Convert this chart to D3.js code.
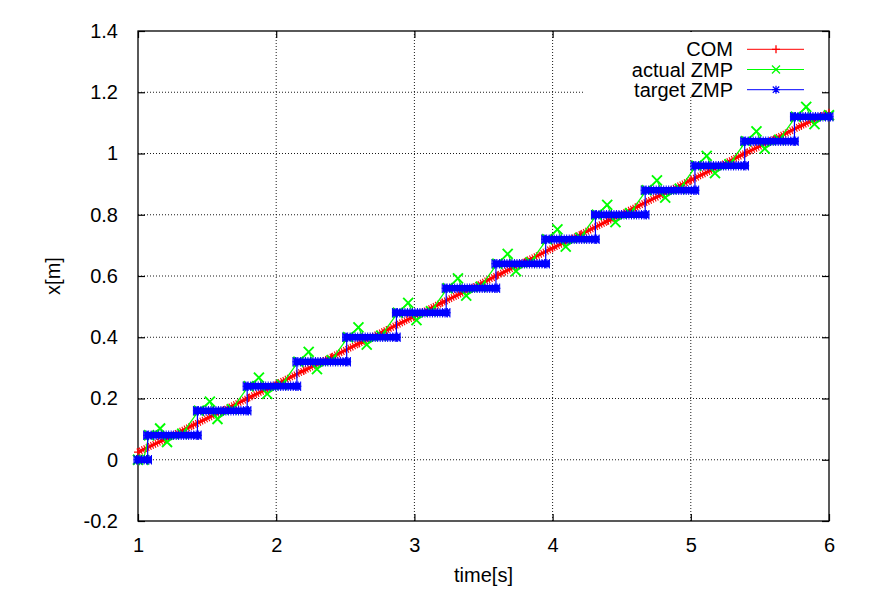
<!DOCTYPE html>
<html><head><meta charset="utf-8">
<script src="https://cdn.jsdelivr.net/npm/d3@7"></script>
<style>
body{margin:0;background:#fff}
svg{display:block}
text{font-family:"Liberation Sans",Arial,Helvetica,sans-serif;font-size:20px;fill:#000}
</style>
</head><body>
<svg id="chart" width="873" height="606"></svg>
<script>
// ---- data ----
const xTicks = [1, 2, 3, 4, 5, 6];
const xTickLabels = ["1", "2", "3", "4", "5", "6"];
const yTicks = [-0.2, 0, 0.2, 0.4, 0.6, 0.8, 1, 1.2, 1.4];
const yTickLabels = ["-0.2", "0", "0.2", "0.4", "0.6", "0.8", "1", "1.2", "1.4"];
const seriesNames = ["COM", "actual ZMP", "target ZMP"];
const xLabel = "time[s]";
const yLabel = "x[m]";

// COM trajectory
const comT = [1.0, 1.2, 1.4, 1.6, 1.8, 2.0, 2.2, 2.4, 2.6, 2.8, 3.0, 3.2, 3.4,
              3.6, 3.8, 4.0, 4.2, 4.4, 4.6, 4.8, 5.0, 5.2, 5.4, 5.6, 5.8, 6.0];
const comX = [0.025, 0.068, 0.113, 0.157, 0.202, 0.246, 0.291, 0.335, 0.380, 0.424, 0.468, 0.513, 0.557,
              0.602, 0.646, 0.691, 0.735, 0.780, 0.824, 0.868, 0.913, 0.957, 1.002, 1.046, 1.091, 1.133];

// actual ZMP
const zmpT = [1.00, 1.04,
  1.08, 1.16, 1.21, 1.32,
  1.44, 1.52, 1.575, 1.68,
  1.80, 1.875, 1.935, 2.04,
  2.16, 2.235, 2.295, 2.40,
  2.52, 2.595, 2.655, 2.76,
  2.88, 2.955, 3.015, 3.12,
  3.24, 3.315, 3.375, 3.48,
  3.60, 3.675, 3.735, 3.84,
  3.96, 4.035, 4.095, 4.20,
  4.32, 4.395, 4.455, 4.56,
  4.68, 4.755, 4.815, 4.92,
  5.04, 5.115, 5.175, 5.28,
  5.40, 5.475, 5.535, 5.64,
  5.76, 5.835, 5.895, 6.00];
const zmpX = [0.000, 0.000,
  0.080, 0.102, 0.058, 0.085,
  0.160, 0.190, 0.133, 0.165,
  0.240, 0.268, 0.215, 0.245,
  0.320, 0.352, 0.296, 0.325,
  0.400, 0.432, 0.376, 0.405,
  0.480, 0.512, 0.456, 0.485,
  0.560, 0.592, 0.536, 0.565,
  0.640, 0.672, 0.616, 0.645,
  0.720, 0.752, 0.696, 0.725,
  0.800, 0.832, 0.776, 0.805,
  0.880, 0.912, 0.856, 0.885,
  0.960, 0.992, 0.936, 0.965,
  1.040, 1.072, 1.016, 1.045,
  1.120, 1.152, 1.096, 1.125];

// target ZMP (step start times and levels)
const targetT = [1.00, 1.07, 1.43, 1.79, 2.15, 2.51, 2.87, 3.23, 3.59, 3.95, 4.31, 4.67, 5.03, 5.39, 5.75];
const targetX = [0.00, 0.08, 0.16, 0.24, 0.32, 0.40, 0.48, 0.56, 0.64, 0.72, 0.80, 0.88, 0.96, 1.04, 1.12];
const targetEnd = 6.0;

// ---- drawing ----
const svg = d3.select("#chart");
const L = 138, R = 829, T = 31, B = 521;
const x = d3.scaleLinear().domain([1, 6]).range([L, R]);
const y = d3.scaleLinear().domain([-0.2, 1.4]).range([B, T]);

const RED = "#ff0000", GREEN = "#00ff00", BLUE = "#0000ff";

// grid
const grid = svg.append("g").attr("stroke", "#000").attr("stroke-width", 0.9)
  .attr("stroke-dasharray", "1,2").attr("fill", "none");
xTicks.slice(1, -1).forEach(t => grid.append("line")
  .attr("x1", x(t)).attr("x2", x(t)).attr("y1", B).attr("y2", T));
yTicks.slice(1, -1).forEach(t => grid.append("line")
  .attr("x1", L).attr("x2", R).attr("y1", y(t)).attr("y2", y(t)));

// axes via d3 axis (inward ticks, labels)
const tickLen = 7;
const xAxis = d3.axisBottom(x).tickValues(xTicks).tickSize(-tickLen).tickPadding(17)
  .tickFormat((d, i) => xTickLabels[i]);
const yAxis = d3.axisLeft(y).tickValues(yTicks).tickSize(-tickLen).tickPadding(20)
  .tickFormat((d, i) => yTickLabels[i]);
const gx = svg.append("g").attr("transform", `translate(0,${B})`).call(xAxis);
const gy = svg.append("g").attr("transform", `translate(${L},0)`).call(yAxis);
const gxt = svg.append("g").attr("transform", `translate(0,${T})`).call(d3.axisTop(x).tickValues(xTicks).tickSize(-tickLen).tickFormat(""));
const gyr = svg.append("g").attr("transform", `translate(${R},0)`).call(d3.axisRight(y).tickValues(yTicks).tickSize(-tickLen).tickFormat(""));
[gx, gy, gxt, gyr].forEach(g => {
  g.select(".domain").remove();
  g.selectAll(".tick line").attr("stroke", "#000").attr("stroke-width", 1.2);
  g.selectAll(".tick text").attr("font-size", 20).attr("font-family", null).attr("fill", "#000");
});
gx.selectAll(".tick text").attr("dy", "0.71em");
gy.selectAll(".tick text").attr("dy", "0.32em");

// frame
svg.append("rect").attr("x", L).attr("y", T).attr("width", R - L).attr("height", B - T)
  .attr("fill", "none").attr("stroke", "#000").attr("stroke-width", 1.3);

// axis titles
svg.append("text").attr("x", (L + R) / 2).attr("y", 582).attr("text-anchor", "middle").text(xLabel);
svg.append("text").attr("transform", `translate(60,${(T + B) / 2}) rotate(-90)`)
  .attr("text-anchor", "middle").text(yLabel);

// marker shapes
const plusPath = s => `M${-s},0H${s}M0,${-s}V${s}`;
const crossPath = s => `M${-s},${-s}L${s},${s}M${-s},${s}L${s},${-s}`;
const starPath = s => plusPath(s) + crossPath(s * 0.8);

const plot = svg.append("g");

// COM
const comData = comT.map((t, i) => [t, comX[i]]);
const comLine = d3.line().x(d => x(d[0])).y(d => y(d[1]));
plot.append("path").attr("d", comLine(comData)).attr("fill", "none")
  .attr("stroke", RED).attr("stroke-width", 3);
plot.append("path").attr("d", comLine(comData)).attr("fill", "none")
  .attr("stroke", RED).attr("stroke-width", 7.5).attr("stroke-dasharray", "1.1,1.4");
plot.append("g").selectAll("path").data(comData).join("path")
  .attr("transform", d => `translate(${x(d[0])},${y(d[1])})`)
  .attr("d", plusPath(4)).attr("stroke", RED).attr("stroke-width", 1.2).attr("fill", "none");

// actual ZMP
const zmpData = zmpT.map((t, i) => [t, zmpX[i]]);
plot.append("path").attr("d", comLine(zmpData)).attr("fill", "none")
  .attr("stroke", GREEN).attr("stroke-width", 1.2);
plot.append("g").selectAll("path").data(zmpData).join("path")
  .attr("transform", d => `translate(${x(d[0])},${y(d[1])})`)
  .attr("d", crossPath(5)).attr("stroke", GREEN).attr("stroke-width", 1.9).attr("fill", "none");

// target ZMP
const tgtData = targetT.map((t, i) => [t, targetX[i]]);
const tgtStep = tgtData.concat([[targetEnd, targetX[targetX.length - 1]]]);
plot.append("path").attr("d", d3.line().curve(d3.curveStepAfter).x(d => x(d[0])).y(d => y(d[1]))(tgtStep))
  .attr("fill", "none").attr("stroke", BLUE).attr("stroke-width", 1.2);
const segs = tgtData.map((d, i) => ({t0: d[0], t1: i + 1 < tgtData.length ? tgtData[i + 1][0] : targetEnd, v: d[1]}));
const segG = plot.append("g");
segG.selectAll("line.solid").data(segs).join("line").attr("class", "solid")
  .attr("x1", d => x(d.t0) - 3.5).attr("x2", d => x(d.t1) + 3.5)
  .attr("y1", d => y(d.v)).attr("y2", d => y(d.v))
  .attr("stroke", BLUE).attr("stroke-width", 6.5);
segG.selectAll("line.tex").data(segs).join("line").attr("class", "tex")
  .attr("x1", d => x(d.t0) - 4.5).attr("x2", d => x(d.t1) + 4.5)
  .attr("y1", d => y(d.v)).attr("y2", d => y(d.v))
  .attr("stroke", BLUE).attr("stroke-width", 9.5).attr("stroke-dasharray", "1,1.5");
plot.append("g").selectAll("path").data(segs.flatMap(s => [[s.t0, s.v], [s.t1, s.v]])).join("path")
  .attr("transform", d => `translate(${x(d[0])},${y(d[1])})`)
  .attr("d", starPath(4.5)).attr("stroke", BLUE).attr("stroke-width", 1.2).attr("fill", "none");

// legend (opaque)
svg.append("rect").attr("x", 585).attr("y", T + 1).attr("width", 235).attr("height", 65).attr("fill", "#fff");
const legColors = [RED, GREEN, BLUE];
const legShapes = [plusPath(4), crossPath(4), starPath(4)];
seriesNames.forEach((name, i) => {
  const cy = 49.3 + i * 20.2;
  svg.append("text").attr("x", 733).attr("y", cy + 7).attr("text-anchor", "end").text(name);
  svg.append("line").attr("x1", 747).attr("x2", 804).attr("y1", cy).attr("y2", cy)
    .attr("stroke", legColors[i]).attr("stroke-width", 1);
  svg.append("path").attr("transform", `translate(776,${cy})`).attr("d", legShapes[i])
    .attr("stroke", legColors[i]).attr("stroke-width", 1.3).attr("fill", "none");
});
</script>
</body></html>
